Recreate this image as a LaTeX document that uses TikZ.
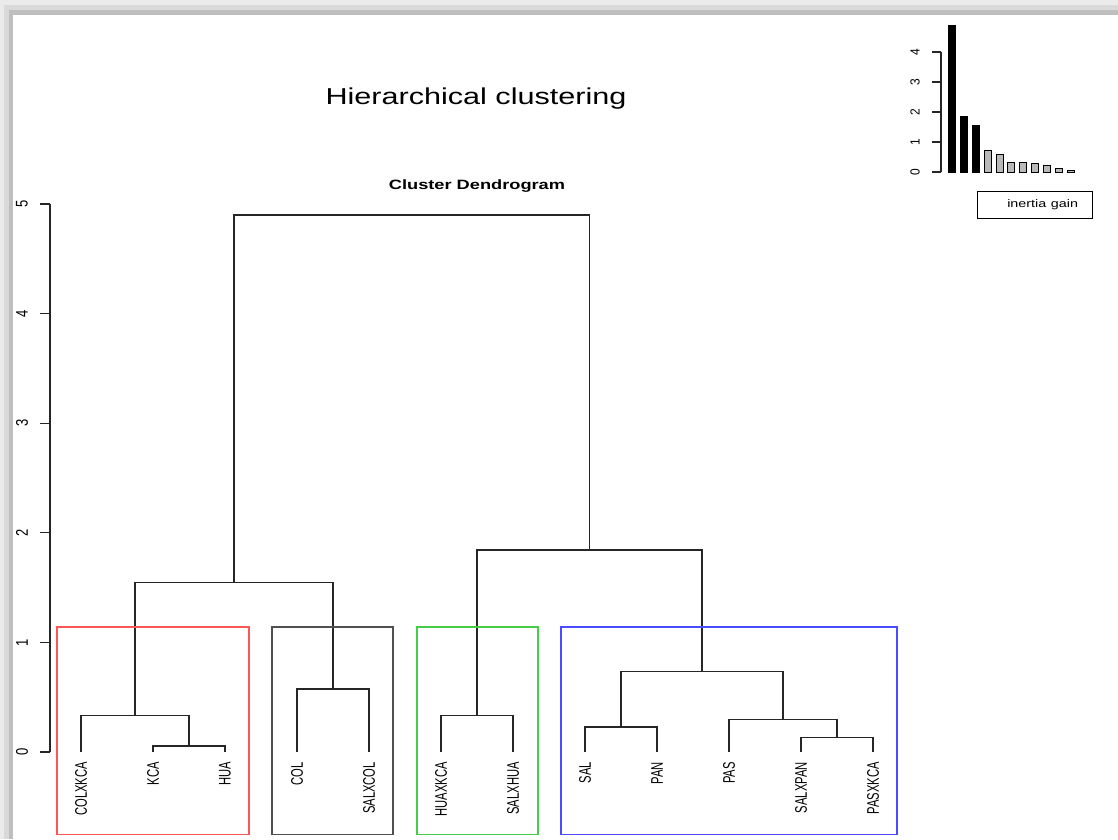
\documentclass[tikz,border=0pt]{standalone}
\usepackage{fontspec}
\setmainfont{Liberation Sans}
\usepackage{graphicx}
\definecolor{clred}{RGB}{255,85,85}
\definecolor{clgreen}{RGB}{70,205,70}
\definecolor{clblue}{RGB}{75,75,255}
\definecolor{clgray}{RGB}{80,80,80}
\definecolor{bargray}{RGB}{185,185,185}
\newcommand{\leafname}[1]{\scalebox{1.5}[1]{\rotatebox{90}{#1}}}
\newcommand{\tickname}[1]{\scalebox{1.3}[1]{\rotatebox{90}{#1}}}
\begin{document}
\begin{tikzpicture}[x=1pt, y=1pt,
  link/.style={line width=1.2pt, draw=black!85},
  leaflab/.style={anchor=north, inner sep=0pt, font=\fontsize{11.2}{13}\selectfont},
  ticklab/.style={inner sep=0pt, font=\fontsize{13}{15}\selectfont},
  clbox/.style={line width=1.2pt},
  bar/.style={draw=black, line width=0.8pt}]
\useasboundingbox (0,0) rectangle (1118,839);
\fill[white] (0,0) rectangle (1118,839);
\fill[gray!16] (0,834) rectangle (1118,839);
\fill[gray!30] (0,829) rectangle (1118,834);
\fill[gray!50] (13,824) rectangle (1118,829);
\fill[gray!16] (0,0) rectangle (4,839);
\fill[gray!30] (4,0) rectangle (9,834);
\fill[gray!50] (9,0) rectangle (13,829);
\node[font=\fontsize{23}{27}\selectfont] (title) at (476,740) {\scalebox{1.33}[1]{Hierarchical clustering}};
\node[font=\bfseries\fontsize{13.5}{16}\selectfont] (subtitle) at (477,653) {\scalebox{1.35}[1]{Cluster Dendrogram}};
\begin{scope}[shift={(0,87)}, y=109.6pt]
\coordinate (ax0) at (50,0);
\coordinate (ax5) at (50,5);
\draw[link] (ax0) -- (ax5);
\draw[link] (40,0) -- (50,0);
\draw[link] (40,1) -- (50,1);
\draw[link] (40,2) -- (50,2);
\draw[link] (40,3) -- (50,3);
\draw[link] (40,4) -- (50,4);
\draw[link] (40,5) -- (50,5);
\node[ticklab] (y0) at (22,0) {\tickname{0}};
\node[ticklab] (y1) at (22,1) {\tickname{1}};
\node[ticklab] (y2) at (22,2) {\tickname{2}};
\node[ticklab] (y3) at (22,3) {\tickname{3}};
\node[ticklab] (y4) at (22,4) {\tickname{4}};
\node[ticklab] (y5) at (22,5) {\tickname{5}};
\coordinate (COLXKCA) at (81,0);
\coordinate (KCA) at (153,0);
\coordinate (HUA) at (225,0);
\coordinate (COL) at (297,0);
\coordinate (SALXCOL) at (369,0);
\coordinate (HUAXKCA) at (441,0);
\coordinate (SALXHUA) at (513,0);
\coordinate (SAL) at (585,0);
\coordinate (PAN) at (657,0);
\coordinate (PAS) at (729,0);
\coordinate (SALXPAN) at (801,0);
\coordinate (PASXKCA) at (873,0);
\node[leaflab] (tCOLXKCA) at ([yshift=-10pt]COLXKCA) {\leafname{COLXKCA}};
\node[leaflab] (tKCA) at ([yshift=-10pt]KCA) {\leafname{KCA}};
\node[leaflab] (tHUA) at ([yshift=-10pt]HUA) {\leafname{HUA}};
\node[leaflab] (tCOL) at ([yshift=-10pt]COL) {\leafname{COL}};
\node[leaflab] (tSALXCOL) at ([yshift=-10pt]SALXCOL) {\leafname{SALXCOL}};
\node[leaflab] (tHUAXKCA) at ([yshift=-10pt]HUAXKCA) {\leafname{HUAXKCA}};
\node[leaflab] (tSALXHUA) at ([yshift=-10pt]SALXHUA) {\leafname{SALXHUA}};
\node[leaflab] (tSAL) at ([yshift=-10pt]SAL) {\leafname{SAL}};
\node[leaflab] (tPAN) at ([yshift=-10pt]PAN) {\leafname{PAN}};
\node[leaflab] (tPAS) at ([yshift=-10pt]PAS) {\leafname{PAS}};
\node[leaflab] (tSALXPAN) at ([yshift=-10pt]SALXPAN) {\leafname{SALXPAN}};
\node[leaflab] (tPASXKCA) at ([yshift=-10pt]PASXKCA) {\leafname{PASXKCA}};
\coordinate (mKH) at (189,0.055);
\coordinate (mRed) at (135,0.335);
\coordinate (mCol) at (333,0.575);
\coordinate (mGreen) at (477,0.335);
\coordinate (mSP) at (621,0.228);
\coordinate (mPP) at (837,0.13);
\coordinate (mPas) at (783,0.298);
\coordinate (mBlue) at (702,0.733);
\coordinate (mLeft) at (234,1.55);
\coordinate (mRight) at (589.5,1.843);
\coordinate (mRoot) at (411.75,4.9);
\draw[link] (KCA) |- (mKH) -| (HUA);
\draw[link] (COLXKCA) |- (mRed) -| (mKH);
\draw[link] (COL) |- (mCol) -| (SALXCOL);
\draw[link] (HUAXKCA) |- (mGreen) -| (SALXHUA);
\draw[link] (SAL) |- (mSP) -| (PAN);
\draw[link] (SALXPAN) |- (mPP) -| (PASXKCA);
\draw[link] (PAS) |- (mPas) -| (mPP);
\draw[link] (mSP) |- (mBlue) -| (mPas);
\draw[link] (mRed) |- (mLeft) -| (mCol);
\draw[link] (mGreen) |- (mRight) -| (mBlue);
\draw[link] (mLeft) |- (mRoot) -| (mRight);
\draw[clbox, draw=clred] (57,-0.755) rectangle (249,1.14);
\draw[clbox, draw=clgray] (272,-0.755) rectangle (393,1.14);
\draw[clbox, draw=clgreen] (417,-0.755) rectangle (538,1.14);
\draw[clbox, draw=clblue] (561,-0.755) rectangle (897,1.14);
\end{scope}
\begin{scope}[shift={(0,667)}, y=30pt]
\coordinate (ix0) at (941,0);
\coordinate (ix4) at (941,4);
\draw[link] (ix0) -- (ix4);
\draw[link] (932,0) -- (941,0);
\draw[link] (932,1) -- (941,1);
\draw[link] (932,2) -- (941,2);
\draw[link] (932,3) -- (941,3);
\draw[link] (932,4) -- (941,4);
\node[ticklab, font=\fontsize{12}{14}\selectfont] (i0) at (915,0) {\scalebox{1.1}[1]{\rotatebox{90}{0}}};
\node[ticklab, font=\fontsize{12}{14}\selectfont] (i1) at (915,1) {\scalebox{1.1}[1]{\rotatebox{90}{1}}};
\node[ticklab, font=\fontsize{12}{14}\selectfont] (i2) at (915,2) {\scalebox{1.1}[1]{\rotatebox{90}{2}}};
\node[ticklab, font=\fontsize{12}{14}\selectfont] (i3) at (915,3) {\scalebox{1.1}[1]{\rotatebox{90}{3}}};
\node[ticklab, font=\fontsize{12}{14}\selectfont] (i4) at (915,4) {\scalebox{1.1}[1]{\rotatebox{90}{4}}};
\filldraw[bar, fill=black] (948,0) rectangle (955,4.9);
\filldraw[bar, fill=black] (960,0) rectangle (967,1.843);
\filldraw[bar, fill=black] (972,0) rectangle (979,1.55);
\filldraw[bar, fill=bargray] (984,0) rectangle (991,0.733);
\filldraw[bar, fill=bargray] (996,0) rectangle (1003,0.575);
\filldraw[bar, fill=bargray] (1007.5,0) rectangle (1014.5,0.335);
\filldraw[bar, fill=bargray] (1019.5,0) rectangle (1026.5,0.335);
\filldraw[bar, fill=bargray] (1031.5,0) rectangle (1038.5,0.298);
\filldraw[bar, fill=bargray] (1043,0) rectangle (1050,0.228);
\filldraw[bar, fill=bargray] (1055,0) rectangle (1062,0.13);
\filldraw[bar, fill=bargray] (1067,0) rectangle (1074,0.055);
\end{scope}
\node[draw=black, line width=0.8pt, minimum height=27pt, inner xsep=14pt, text width=87pt, align=right,
  font=\fontsize{11}{13}\selectfont] (legend) at (1034.5,634.5) {\scalebox{1.3}[1]{inertia gain}};
\end{tikzpicture}
\end{document}
